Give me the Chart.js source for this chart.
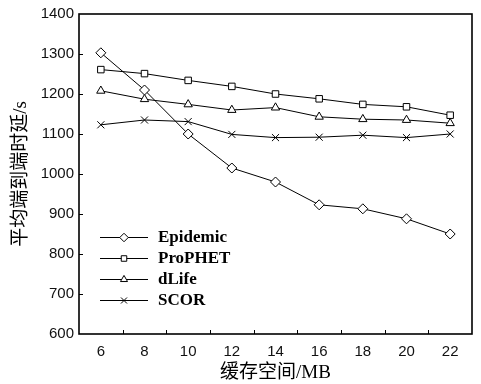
<!DOCTYPE html>
<html>
<head>
<meta charset="utf-8">
<script src="https://cdn.jsdelivr.net/npm/chart.js@4/dist/chart.umd.min.js"></script>
<style>
html,body{margin:0;padding:0;background:#fff;}
#wrap{width:481px;height:384px;}
</style>
</head>
<body>
<div id="wrap"><canvas id="c" width="481" height="384"></canvas></div>
<script>
const bufferSizes = [6, 8, 10, 12, 14, 16, 18, 20, 22];
const epidemic = [1303, 1210, 1100, 1015, 980, 923, 913, 888, 850];
const prophet  = [1261, 1251, 1234, 1219, 1200, 1188, 1174, 1168, 1147];
const dlife    = [1208, 1187, 1174, 1160, 1166, 1143, 1137, 1135, 1127];
const scor     = [1123, 1135, 1131, 1099, 1091, 1092, 1097, 1091, 1100];
const seriesNames = ['Epidemic', 'ProPHET', 'dLife', 'SCOR'];
const xTickValues = [6, 8, 10, 12, 14, 16, 18, 20, 22];
const xMinorTicks = [7, 9, 11, 13, 15, 17, 19, 21];
const yTickValues = [600, 700, 800, 900, 1000, 1100, 1200, 1300, 1400];

const styles = [
  {pointStyle: 'rectRot', radius: 5},
  {pointStyle: 'rect', radius: 4.6},
  {pointStyle: 'triangle', radius: 4.8},
  {pointStyle: 'crossRot', radius: 5}
];
const allSeries = [epidemic, prophet, dlife, scor];

const datasets = allSeries.map((vals, i) => ({
  label: seriesNames[i],
  data: bufferSizes.map((x, j) => ({x: x, y: vals[j]})),
  borderColor: '#000',
  borderWidth: 1,
  backgroundColor: '#fff',
  pointStyle: styles[i].pointStyle,
  pointRadius: styles[i].radius,
  pointBorderColor: '#000',
  pointBackgroundColor: '#fff',
  pointBorderWidth: 1,
  tension: 0,
  fill: false
}));

const framePlugin = {
  id: 'frame',
  afterDatasetsDraw(chart) {
    const ctx = chart.ctx;
    const a = chart.chartArea;
    const xs = chart.scales.x, ys = chart.scales.y;
    ctx.save();
    ctx.strokeStyle = '#000';
    ctx.lineWidth = 1;
    xMinorTicks.forEach(v => {
      const px = Math.round(xs.getPixelForValue(v)) + 0.5;
      ctx.beginPath(); ctx.moveTo(px, a.bottom); ctx.lineTo(px, a.bottom - 4); ctx.stroke();
    });
    yTickValues.slice(1, -1).forEach(v => {
      const py = Math.round(ys.getPixelForValue(v)) + 0.5;
      ctx.beginPath(); ctx.moveTo(a.left, py); ctx.lineTo(a.left + 4, py); ctx.stroke();
    });
    ctx.lineWidth = 1.6;
    ctx.strokeRect(a.left, a.top, a.right - a.left, a.bottom - a.top);

    // legend
    const rowsY = [237, 258, 279, 300];
    const lineX0 = 100, lineX1 = 148, markX = 124, textX = 158;
    ctx.font = 'bold 17px "Liberation Serif", "Times New Roman", serif';
    ctx.textBaseline = 'middle';
    ctx.fillStyle = '#000';
    chart.data.datasets.forEach((ds, i) => {
      const y = rowsY[i];
      ctx.lineWidth = 1;
      ctx.strokeStyle = '#000';
      ctx.beginPath(); ctx.moveTo(lineX0, y + 0.5); ctx.lineTo(lineX1, y + 0.5); ctx.stroke();
      if (Chart.helpers && Chart.helpers.drawPoint) {
        ctx.fillStyle = '#fff';
        Chart.helpers.drawPoint(ctx, {pointStyle: ds.pointStyle, radius: ds.pointRadius * 0.85, rotation: 0, borderWidth: 1}, markX, y + 0.5);
      }
      ctx.fillStyle = '#000';
      ctx.fillText(ds.label, textX, y + 1);
    });
    ctx.restore();
  }
};

new Chart(document.getElementById('c'), {
  type: 'line',
  data: {datasets: datasets},
  options: {
    responsive: false,
    animation: false,
    events: [],
    layout: {padding: {top: 12, right: 9, left: 0, bottom: 0}},
    plugins: {legend: {display: false}, tooltip: {enabled: false}},
    scales: {
      x: {
        type: 'linear',
        min: 5, max: 23,
        afterBuildTicks(scale) { scale.ticks = xTickValues.map(v => ({value: v})); },
        afterFit(scale) { scale.height = 50; },
        grid: {display: false, drawTicks: false},
        border: {display: false},
        ticks: {color: '#111', padding: 9, callback: v => String(v),
          font: {family: '"Liberation Sans", Arial, sans-serif', size: 15}},
        title: {display: true, text: '缓存空间/MB', color: '#000', padding: {top: 6, bottom: 0},
          font: {family: '"Liberation Serif", "Noto Sans CJK SC", serif', size: 19, weight: 'normal'}}
      },
      y: {
        type: 'linear',
        min: 600, max: 1400,
        afterBuildTicks(scale) { scale.ticks = yTickValues.map(v => ({value: v})); },
        afterFit(scale) { scale.width = 79; },
        grid: {display: false, drawTicks: false},
        border: {display: false},
        ticks: {color: '#111', padding: 5, callback: v => String(v),
          font: {family: '"Liberation Sans", Arial, sans-serif', size: 15}},
        title: {display: true, text: '平均端到端时延/s', color: '#000', padding: {top: 10, bottom: 0},
          font: {family: '"Liberation Serif", "Noto Sans CJK SC", serif', size: 19, weight: 'normal'}}
      }
    }
  },
  plugins: [framePlugin]
});
</script>
</body>
</html>
